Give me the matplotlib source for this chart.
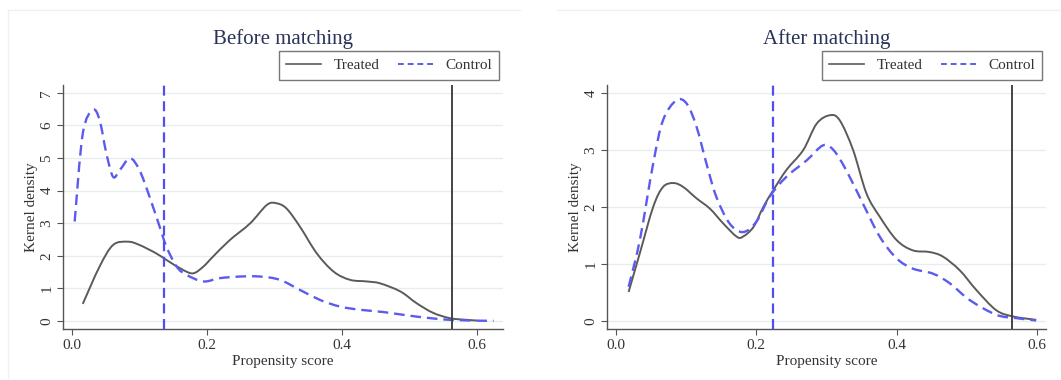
import matplotlib
matplotlib.use("Agg")
import matplotlib.pyplot as plt
from matplotlib.lines import Line2D
from matplotlib.path import Path
from matplotlib.patches import PathPatch

plt.rcParams['font.family'] = ['Liberation Serif', 'DejaVu Serif']

# ---- Data ----
before_treated_x = [0.016, 0.041, 0.061, 0.083, 0.100, 0.125, 0.140, 0.165, 0.180, 0.195, 0.209,
                    0.234, 0.264, 0.289, 0.303, 0.318, 0.338, 0.363, 0.388, 0.412, 0.437, 0.457,
                    0.487, 0.511, 0.536, 0.561, 0.586, 0.600]
before_treated_y = [0.52, 1.67, 2.33, 2.43, 2.33, 2.07, 1.87, 1.56, 1.46, 1.67, 1.97,
                    2.48, 2.99, 3.56, 3.61, 3.45, 2.89, 2.07, 1.51, 1.26, 1.21, 1.15,
                    0.90, 0.54, 0.24, 0.08, 0.03, 0.01]
before_control_x = [0.004, 0.016, 0.031, 0.041, 0.051, 0.061, 0.071, 0.086, 0.100, 0.115, 0.130,
                    0.140, 0.155, 0.170, 0.195, 0.219, 0.249, 0.279, 0.308, 0.338, 0.368,
                    0.397, 0.427, 0.462, 0.511, 0.561, 0.625]
before_control_y = [3.05, 5.75, 6.47, 6.16, 5.14, 4.42, 4.63, 4.99, 4.63, 3.81, 2.89,
                    2.28, 1.67, 1.41, 1.21, 1.31, 1.36, 1.36, 1.26, 0.95, 0.64,
                    0.44, 0.34, 0.27, 0.13, 0.03, 0.00]

after_treated_x = [0.018, 0.034, 0.053, 0.067, 0.082, 0.096, 0.115, 0.134, 0.153, 0.172, 0.181,
                   0.196, 0.210, 0.224, 0.243, 0.267, 0.286, 0.305, 0.319, 0.338, 0.357,
                   0.376, 0.400, 0.423, 0.447, 0.466, 0.490, 0.514, 0.542, 0.566, 0.599]
after_treated_y = [0.51, 1.19, 2.00, 2.35, 2.42, 2.35, 2.15, 1.97, 1.71, 1.48, 1.48,
                   1.65, 2.00, 2.29, 2.65, 3.00, 3.46, 3.61, 3.52, 3.00, 2.24,
                   1.83, 1.42, 1.24, 1.21, 1.13, 0.89, 0.54, 0.19, 0.08, 0.02]
after_control_x = [0.018, 0.034, 0.053, 0.067, 0.086, 0.101, 0.115, 0.129, 0.143, 0.162, 0.181,
                   0.200, 0.219, 0.243, 0.272, 0.295, 0.310, 0.328, 0.352, 0.376, 0.400,
                   0.423, 0.452, 0.476, 0.504, 0.542, 0.571, 0.599]
after_control_y = [0.60, 1.42, 2.76, 3.52, 3.87, 3.81, 3.40, 2.76, 2.18, 1.71, 1.56,
                   1.74, 2.18, 2.53, 2.82, 3.08, 3.00, 2.65, 2.06, 1.48, 1.10,
                   0.92, 0.83, 0.66, 0.37, 0.11, 0.05, 0.01]

titles = ["Before matching", "After matching"]
control_cut = [0.137, 0.224]
treated_cut = [0.563, 0.564]
y_ticks = [list(range(0, 8)), list(range(0, 5))]
x_ticks = [0.0, 0.2, 0.4, 0.6]
x_ticklabels = ["0.0", "0.2", "0.4", "0.6"]

TREATED_C = "#5a5a5a"
CONTROL_C = "#5b5bf0"
TEXT_C = "#333333"
TITLE_C = "#2a3358"


def smooth_path(xs, ys):
    """Catmull-Rom curve through the read points, expressed as cubic Bezier segments."""
    verts = [(xs[0], ys[0])]
    codes = [Path.MOVETO]
    n = len(xs)
    for k in range(n - 1):
        x0, y0 = (xs[k - 1], ys[k - 1]) if k > 0 else (xs[k], ys[k])
        x1, y1 = xs[k], ys[k]
        x2, y2 = xs[k + 1], ys[k + 1]
        x3, y3 = (xs[k + 2], ys[k + 2]) if k + 2 < n else (x2, y2)
        c1 = (x1 + (x2 - x0) / 6.0, y1 + (y2 - y0) / 6.0)
        c2 = (x2 - (x3 - x1) / 6.0, y2 - (y3 - y1) / 6.0)
        verts += [c1, c2, (x2, y2)]
        codes += [Path.CURVE4] * 3
    return Path(verts, codes)


fig = plt.figure(figsize=(10.61, 3.80), dpi=100)
W, H = 1061, 380


def ax_rect(l, r, t, b):
    return [l / W, 1 - b / H, (r - l) / W, (b - t) / H]


axes = [fig.add_axes(ax_rect(63, 503, 85, 329)), fig.add_axes(ax_rect(607, 1046, 85, 329))]
xlims = [(-0.0133, 0.639), (-0.0128, 0.613)]
ylims = [(-0.25, 7.24), (-0.14, 4.14)]

data = [(before_treated_x, before_treated_y, before_control_x, before_control_y),
        (after_treated_x, after_treated_y, after_control_x, after_control_y)]

for i, ax in enumerate(axes):
    tx, ty, cx, cy = data[i]
    for yv in y_ticks[i]:
        ax.axhline(yv, color="#e6eeee", lw=1.0, zorder=0)
    ax.add_patch(PathPatch(smooth_path(tx, ty), facecolor="none", edgecolor=TREATED_C,
                           lw=1.4, zorder=3))
    ax.add_patch(PathPatch(smooth_path(cx, cy), facecolor="none", edgecolor=CONTROL_C,
                           lw=1.7, ls=(0, (4.5, 2.5)), zorder=3))
    ax.axvline(control_cut[i], color="#4f4ff5", lw=1.6, ls=(0, (4.5, 2.5)), zorder=4)
    ax.axvline(treated_cut[i], color="#444444", lw=1.4, zorder=4)

    ax.set_xlim(*xlims[i])
    ax.set_ylim(*ylims[i])
    ax.set_xticks(x_ticks)
    ax.set_xticklabels(x_ticklabels)
    ax.set_yticks(y_ticks[i])
    ax.set_yticklabels([str(v) for v in y_ticks[i]], rotation=90, va="center")
    for s in ["top", "right"]:
        ax.spines[s].set_visible(False)
    for s in ["left", "bottom"]:
        ax.spines[s].set_color("#555555")
        ax.spines[s].set_linewidth(1.0)
    ax.tick_params(axis="both", direction="out", length=4, width=0.8, color="#555555",
                   labelsize=11, labelcolor=TEXT_C)
    ax.tick_params(axis="y", pad=3)
    ax.set_xlabel("Propensity score", fontsize=11, color=TEXT_C, labelpad=2)
    ax.set_ylabel("Kernel density", fontsize=11, color=TEXT_C, labelpad=2)
    ax.set_title(titles[i], fontsize=15, color=TITLE_C, pad=29.5)

    handles = [Line2D([], [], color=TREATED_C, lw=1.2),
               Line2D([], [], color=CONTROL_C, lw=1.4, ls=(0, (3, 2)))]
    leg = ax.legend(handles, ["Treated", "Control"], ncol=2, loc="lower right",
                    bbox_to_anchor=(0.992, 1.02), frameon=True, fancybox=False,
                    fontsize=11, handlelength=2.3, columnspacing=1.2, handletextpad=0.8,
                    borderpad=0.5, borderaxespad=0)
    leg.get_frame().set_edgecolor("#555555")
    leg.get_frame().set_linewidth(1.0)
    for t in leg.get_texts():
        t.set_color(TEXT_C)

# faint panel borders
fig.add_artist(Line2D([8 / W, 520 / W], [1 - 10 / H, 1 - 10 / H], color="#f0f0f0", lw=1))
fig.add_artist(Line2D([8 / W, 8 / W], [1 - 10 / H, 2 / H], color="#f0f0f0", lw=1))
fig.add_artist(Line2D([557 / W, 1061 / W], [1 - 10 / H, 1 - 10 / H], color="#f0f0f0", lw=1))

fig.savefig("out.png", dpi=100)
